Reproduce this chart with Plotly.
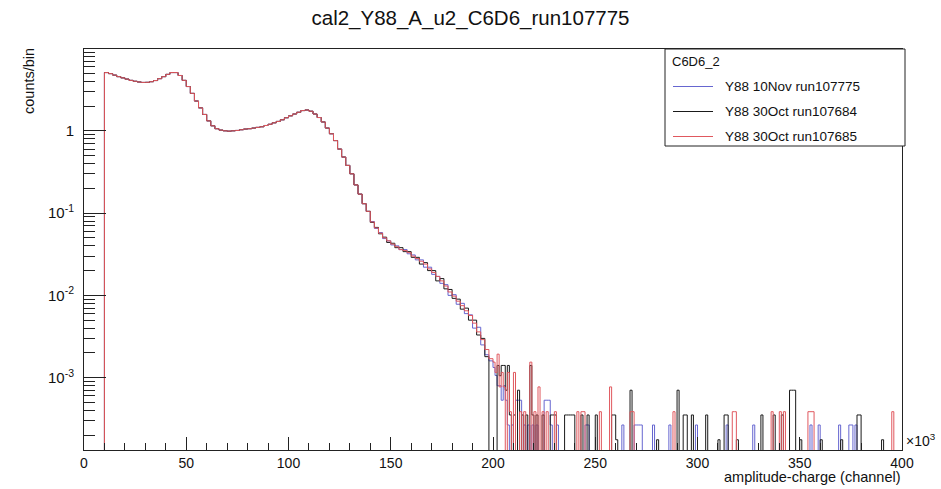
import plotly.graph_objects as go

# ---------------- data (x in units of 10^3 channels) ----------------
title_text = "cal2_Y88_A_u2_C6D6_run107775"
legend_title = "C6D6_2"
series_names = ["Y88 10Nov run107775", "Y88 30Oct run107684", "Y88 30Oct run107685"]
series_colors = ["#6666d0", "#1a1a1a", "#e0585e"]

body_start = 10        # first filled bin edge
body_bin = 2           # bin width of the body region
body_common = [        # bins 10..140 (shared by the three runs, they overlap)
    5.10, 4.95, 4.75, 4.55, 4.40, 4.25, 4.10, 4.00, 3.92, 3.87,
    3.88, 3.95, 4.08, 4.30, 4.55, 4.85, 5.10, 5.10, 4.70, 4.10,
    3.45, 2.85, 2.30, 1.90, 1.58, 1.32, 1.15, 1.06, 1.02, 1.00,
    0.99, 1.00, 1.01, 1.03, 1.05, 1.06, 1.08, 1.10, 1.12, 1.16,
    1.20, 1.25, 1.30, 1.36, 1.44, 1.52, 1.60, 1.68, 1.76, 1.79,
    1.73, 1.60, 1.45, 1.28, 1.08, 0.92, 0.76, 0.60, 0.48, 0.38,
    0.30, 0.22, 0.17, 0.13, 0.105,
]
mid_blue = [   # bins 140..200
    0.079, 0.065, 0.058, 0.049, 0.046, 0.041, 0.040, 0.036, 0.036, 0.032,
    0.031, 0.027, 0.027, 0.022, 0.022, 0.018, 0.017, 0.014, 0.0135, 0.010,
    0.0102, 0.0078, 0.0080, 0.0060, 0.0058, 0.0040, 0.0041, 0.0025, 0.0019, 0.0016,
]
mid_black = [
    0.077, 0.067, 0.056, 0.051, 0.044, 0.043, 0.038, 0.038, 0.034, 0.034,
    0.029, 0.029, 0.024, 0.025, 0.020, 0.020, 0.015, 0.016, 0.012, 0.0118,
    0.0092, 0.0090, 0.0068, 0.0070, 0.0050, 0.0050, 0.0033, 0.0030, 0.0018, 0.0,
]
mid_red = [
    0.078, 0.066, 0.057, 0.050, 0.046, 0.042, 0.039, 0.036, 0.035, 0.033,
    0.030, 0.028, 0.026, 0.024, 0.021, 0.019, 0.017, 0.015, 0.013, 0.011,
    0.0098, 0.0085, 0.0075, 0.0065, 0.0057, 0.0046, 0.0036, 0.0029, 0.0022, 0.0017,
]

tail_start = 200
tail_end = 400
tail_bin = 1
tail_unit = [2.66e-4, 3.52e-4, 3.86e-4]   # value of one count per run
# non-empty tail bins: left edge -> counts
tail_blue = {200: 5, 201: 4, 202: 3, 203: 3, 204: 2, 205: 3, 206: 2, 207: 1, 209: 1,
             211: 2, 212: 2, 213: 2, 215: 1, 217: 1, 219: 1, 221: 1, 225: 2, 226: 2,
             227: 2, 228: 1, 231: 1, 245: 1, 246: 1, 263: 1, 269: 1, 270: 1, 271: 1,
             272: 1, 278: 1, 286: 1, 299: 1, 314: 1, 327: 1, 355: 1, 359: 1, 369: 1,
             374: 1, 375: 1, 377: 1}
tail_black = {202: 4, 203: 3, 204: 4, 205: 4, 206: 2, 207: 4, 208: 1, 210: 1, 212: 2,
              214: 1, 216: 1, 218: 4, 219: 1, 221: 1, 224: 1, 228: 1, 229: 1, 230: 1,
              235: 1, 236: 1, 237: 1, 238: 1, 239: 1, 243: 1, 246: 1, 250: 1, 258: 1,
              259: 1, 260: 0.5, 267: 2, 280: 0.5, 290: 2, 293: 1, 294: 1, 297: 1, 304: 1,
              310: 0.5, 313: 1, 314: 1, 319: 0.5, 331: 1, 337: 1, 341: 1, 345: 2, 346: 2,
              347: 2, 350: 0.5, 360: 0.5, 370: 0.5, 378: 1, 379: 1, 390: 0.5}
tail_red = {200: 4, 201: 3, 202: 5, 203: 2, 204: 3, 205: 2, 207: 3, 208: 1, 210: 3,
            213: 1, 215: 1, 218: 4, 220: 1, 222: 2, 224: 1, 226: 1, 230: 1, 241: 1,
            243: 1, 244: 1, 252: 1, 257: 2, 267: 1, 268: 1, 288: 1, 317: 1, 318: 1,
            336: 1, 340: 1, 342: 1, 354: 1, 355: 1, 356: 1, 395: 1}

x_tick_vals = [0, 50, 100, 150, 200, 250, 300, 350, 400]
y_tick_vals = [1e-3, 1e-2, 1e-1, 1]
y_tick_text = ["10<sup>-3</sup>", "10<sup>-2</sup>", "10<sup>-1</sup>", "1"]
y_range = [-3.879, 0.994]          # log10 axis range

# ---------------- build histograms ----------------
floor = 10 ** (y_range[0] - 2)      # empty bins drop below the frame


def build(mid, tail, unit):
    n_body = len(body_common) + len(mid)
    edges = [body_start + i * body_bin for i in range(n_body)]
    edges += [tail_start + i * tail_bin for i in range((tail_end - tail_start) // tail_bin + 1)]
    vals = list(body_common) + list(mid)
    vals += [tail.get(tail_start + i * tail_bin, 0) * unit
             for i in range((tail_end - tail_start) // tail_bin)]
    vals = [v if v > 0 else floor for v in vals]
    xs = [edges[0]] + edges
    ys = [floor] + vals + [vals[-1]]
    return xs, ys


fig = go.Figure()
for name, color, mid, tail, unit in zip(series_names, series_colors,
                                         [mid_blue, mid_black, mid_red],
                                         [tail_blue, tail_black, tail_red], tail_unit):
    xs, ys = build(mid, tail, unit)
    fig.add_trace(go.Scatter(x=xs, y=ys, mode="lines", name=name, showlegend=False,
                             line=dict(color=color, width=1, shape="hv")))

minor_y = [k * 10 ** e for e in range(-4, 1) for k in range(2, 10)]

# ---------------- layout geometry (pixels) ----------------
W, H = 941, 489
ML, MR, MT, MB = 84, 39, 49, 39
PW, PH = W - ML - MR, H - MT - MB


def px(xpix):
    return (xpix - ML) / PW


def py(ypix):
    return (H - MB - ypix) / PH


font_family = "Liberation Sans, Arial, Helvetica, sans-serif"
text_color = "#111"

# legend box drawn as shapes + real text
leg_left, leg_right, leg_top, leg_bottom = 665, 905, 49, 146
leg_rows = [86.5, 111.5, 136.5]
shapes = [dict(type="rect", xref="paper", yref="paper",
               x0=px(leg_left), x1=px(leg_right), y0=py(leg_bottom), y1=py(leg_top),
               line=dict(color="#222", width=1), fillcolor="white", layer="above")]
annotations = [dict(text=legend_title, xref="paper", yref="paper", x=px(670), y=py(62),
                    xanchor="left", yanchor="middle", showarrow=False,
                    font=dict(size=13, color=text_color))]
for row, name, color in zip(leg_rows, series_names, series_colors):
    shapes.append(dict(type="line", xref="paper", yref="paper",
                       x0=px(673), x1=px(713), y0=py(row), y1=py(row),
                       line=dict(color=color, width=1.2), layer="above"))
    annotations.append(dict(text=name, xref="paper", yref="paper", x=px(723), y=py(row),
                            xanchor="left", yanchor="middle", showarrow=False,
                            font=dict(size=13.5, color=text_color)))

annotations += [
    dict(text="×10<sup>3</sup>", xref="paper", yref="paper", x=px(904), y=py(440),
         xanchor="left", yanchor="middle", showarrow=False, font=dict(size=14)),
    dict(text="amplitude-charge (channel)", xref="paper", yref="paper",
         x=px(903), y=py(477), xanchor="right", yanchor="middle", showarrow=False,
         font=dict(size=14.5)),
    dict(text="counts/bin", xref="paper", yref="paper", x=px(29), y=py(46),
         xanchor="center", yanchor="top", textangle=-90, showarrow=False,
         font=dict(size=14.5)),
]

fig.update_layout(
    width=W, height=H,
    margin=dict(l=ML, r=MR, t=MT, b=MB),
    paper_bgcolor="white", plot_bgcolor="white",
    font=dict(family=font_family, color=text_color, size=14),
    title=dict(text=title_text, x=0.5, xanchor="center", y=1 - 18 / H, yanchor="middle",
               font=dict(size=20.5, family=font_family, color=text_color)),
    showlegend=False,
    xaxis=dict(
        range=[0, 400], tickvals=x_tick_vals, ticks="inside", ticklen=13,
        tickcolor="#222", showgrid=False, zeroline=False,
        showline=True, linecolor="#222", linewidth=1, mirror=True,
        tickfont=dict(size=14),
        minor=dict(dtick=10, ticks="inside", ticklen=7, tickcolor="#222", showgrid=False),
    ),
    yaxis=dict(
        type="log", range=y_range, tickvals=y_tick_vals, ticktext=y_tick_text,
        ticks="inside", ticklen=22, tickcolor="#222", showgrid=False, zeroline=False,
        showline=True, linecolor="#222", linewidth=1, mirror=True,
        tickfont=dict(size=15), ticklabelstandoff=6,
        minor=dict(tickvals=minor_y, ticks="inside", ticklen=11, tickcolor="#222",
                   showgrid=False),
    ),
    shapes=shapes,
    annotations=annotations,
)

fig.write_html("out.html", config={"displayModeBar": False},
               post_script="document.body.style.margin='0';document.body.style.padding='0';")
